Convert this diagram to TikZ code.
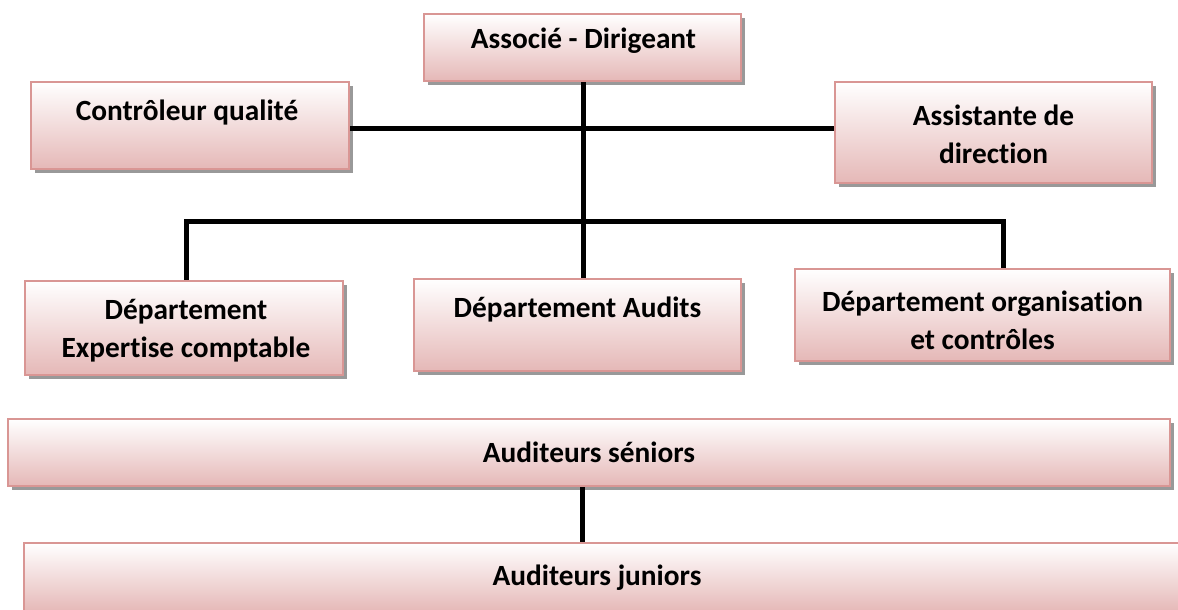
\documentclass[tikz,border=0pt]{standalone}
\usepackage{fontspec}
\setmainfont{Carlito}[RawFeature=-liga]
\usetikzlibrary{shadows}
\definecolor{boxborder}{RGB}{217,150,148}
\definecolor{boxbottom}{RGB}{229,184,183}
\begin{document}
\begin{tikzpicture}[x=0.75pt,y=-0.75pt,
  box/.style={draw=boxborder, line width=1.7pt, top color=white, bottom color=boxbottom,
    inner sep=0pt,
    drop shadow={shadow xshift=3pt, shadow yshift=-3pt, fill=black, opacity=0.4}},
  txt/.style={font=\fontsize{22}{28.5}\selectfont\bfseries, align=center, inner sep=0pt},
  link/.style={line width=3.75pt, line join=miter, draw=black}]
\useasboundingbox (0,0) rectangle (1178,610);

% hierarchy connectors
\coordinate (hub) at (583,128);
\coordinate (bl) at (186,221);
\coordinate (br) at (1003,221);
\coordinate (sj) at (582,0);

% boxes
\node[box, minimum width=237.75pt, minimum height=50.25pt] (assoc) at (582.5,47.5) {};
\node[box, minimum width=238.5pt, minimum height=65.25pt] (ctrl) at (190,125.5) {};
\node[box, minimum width=237.75pt, minimum height=75.75pt] (assist) at (993.5,132.5) {};
\node[box, minimum width=238.5pt, minimum height=70.5pt] (depL) at (184,328) {};
\node[box, minimum width=245.25pt, minimum height=69pt] (depM) at (577.5,325) {};
\node[box, minimum width=281.25pt, minimum height=69pt] (depR) at (982.5,315) {};
\node[box, minimum width=871.5pt, minimum height=50.25pt] (sen) at (589,452.5) {};
\node[box, minimum width=870.75pt, minimum height=51.75pt] (jun) at (604.5,577.5) {};

\draw[link] (assoc.south -| hub) -- (hub |- depM.north);
\draw[link] (ctrl.east |- hub) -- (assist.west |- hub);
\draw[link] (bl |- depL.north) -- (bl) -- (br) -- (br |- depR.north);
\draw[link] (sj |- sen.south) -- (sj |- jun.north);

% labels
\node[txt] (tassoc) at (583.5,41) {Associé - Dirigeant};
\node[txt] (tctrl) at (187,113) {Contrôleur qualité};
\node[txt] (tassist) at (993.5,134) {Assistante de\\direction};
\node[txt] (tdepL) at (186,331) {Département\\Expertise comptable};
\node[txt] (tdepM) at (577.5,310) {Département Audits};
\node[txt] (tdepR) at (982.5,320) {Département organisation\\et contrôles};
\node[txt] (tsen) at (589,452) {Auditeurs séniors};
\node[txt] (tjun) at (597,578) {Auditeurs juniors};
\end{tikzpicture}
\end{document}
